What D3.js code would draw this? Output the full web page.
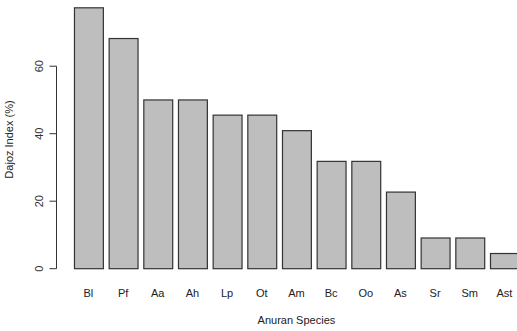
<!DOCTYPE html>
<html>
<head>
<meta charset="utf-8">
<script src="https://cdn.jsdelivr.net/npm/d3@7"></script>
<style>
  body { margin: 0; background: #fff; }
  svg { display: block; font-family: Arial, "Liberation Sans", sans-serif; }
</style>
</head>
<body>
<div id="chart"></div>
<script>
const species = ["Bl", "Pf", "Aa", "Ah", "Lp", "Ot", "Am", "Bc", "Oo", "As", "Sr", "Sm", "Ast"];
const dajoz = [77.3, 68.2, 50.0, 50.0, 45.5, 45.5, 40.9, 31.8, 31.8, 22.7, 9.1, 9.1, 4.5];
const yTicks = [0, 20, 40, 60];

const width = 517, height = 331;

const svg = d3.select("#chart").append("svg")
    .attr("width", width)
    .attr("height", height);

// barplot units: each bar is 1 wide with 0.2 space before it
const x = d3.scaleLinear()
    .domain([0, 15.6])
    .range([68.2, 68.2 + 15.6 * 28.89]);

const y = d3.scaleLinear()
    .domain([0, 60])
    .range([268.7, 66.2]);

svg.append("g")
    .selectAll("rect")
    .data(dajoz)
    .join("rect")
    .attr("x", (d, i) => x(0.2 + i * 1.2) + 0.5)
    .attr("width", x(1) - x(0))
    .attr("y", d => y(d))
    .attr("height", d => y(0) - y(d))
    .attr("fill", "#bebebe")
    .attr("stroke", "#333")
    .attr("stroke-width", 1.2);

// y axis, R style: line only spans the ticks, labels parallel to axis
const yAxis = svg.append("g").attr("transform", "translate(56.5,0)");
yAxis.append("line")
    .attr("y1", y(0)).attr("y2", y(60))
    .attr("stroke", "#333");
yAxis.selectAll("line.tick")
    .data(yTicks)
    .join("line")
    .attr("class", "tick")
    .attr("x1", 0).attr("x2", -7)
    .attr("y1", d => y(d)).attr("y2", d => y(d))
    .attr("stroke", "#333");
yAxis.selectAll("text")
    .data(yTicks)
    .join("text")
    .attr("transform", d => `translate(-14,${y(d)}) rotate(-90)`)
    .attr("text-anchor", "middle")
    .style("font-size", "11px")
    .style("fill", "#333")
    .text(d => d);

svg.append("g")
    .selectAll("text")
    .data(species)
    .join("text")
    .attr("x", (d, i) => x(0.7 + i * 1.2))
    .attr("y", 297)
    .attr("text-anchor", "middle")
    .style("font-size", "11px")
    .style("fill", "#222")
    .text(d => d);

svg.append("text")
    .attr("x", x(7.9))
    .attr("y", 324)
    .attr("text-anchor", "middle")
    .style("font-size", "11px")
    .style("fill", "#222")
    .text("Anuran Species");

svg.append("text")
    .attr("transform", `translate(13,139.5) rotate(-90)`)
    .attr("text-anchor", "middle")
    .style("font-size", "11px")
    .style("fill", "#222")
    .text("Dajoz Index (%)");
</script>
</body>
</html>
